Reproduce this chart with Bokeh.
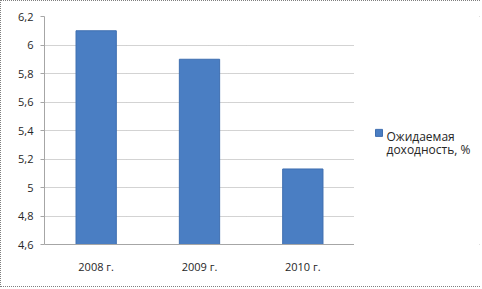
from bokeh.plotting import figure
from bokeh.layouts import row
from bokeh.models import ColumnDataSource, FixedTicker, CustomJSTickFormatter, Range1d
from bokeh.core.properties import value
from bokeh.embed import file_html
from bokeh.resources import INLINE

categories = ["2008 г.", "2009 г.", "2010 г."]
values = [6.1, 5.9, 5.13]
series_lines = ["Ожидаемая", "доходность, %"]
y_ticks = [4.6, 4.8, 5.0, 5.2, 5.4, 5.6, 5.8, 6.0, 6.2]

FONT = "Open Sans"
TXT = "#262626"
GRID = "#a6a6a6"
BAR = "#4A7EC3"
BAR_LINE = "#3f6fb0"

src = ColumnDataSource(dict(cat=categories, val=values, base=[4.6] * len(values)))

p = figure(width=353, height=287, x_range=categories, y_range=Range1d(4.6, 6.2),
           output_backend="svg", toolbar_location=None,
           min_border_left=43, min_border_right=0, min_border_top=15, min_border_bottom=42)
p.outline_line_color = None
p.background_fill_color = "white"
p.border_fill_color = "white"

r = p.vbar(x="cat", top="val", bottom="base", width=0.39, source=src,
           fill_color=BAR, line_color=BAR_LINE, line_width=1)

p.xgrid.grid_line_color = None
p.ygrid.grid_line_color = GRID
p.ygrid.grid_line_dash = "1 1"
p.ygrid.ticker = FixedTicker(ticks=y_ticks)

ya = p.yaxis[0]
ya.ticker = FixedTicker(ticks=y_ticks)
ya.formatter = CustomJSTickFormatter(code="""
var s = tick.toFixed(1);
if (s.endsWith('.0')) { s = s.slice(0, -2); }
return s.replace('.', ',');
""")
ya.axis_line_color = GRID
ya.major_tick_line_color = GRID
ya.major_tick_in = 0
ya.major_tick_out = 4
ya.minor_tick_line_color = None
ya.major_label_standoff = 7
ya.major_label_text_font = FONT
ya.major_label_text_font_size = "11px"
ya.major_label_text_color = TXT

xa = p.xaxis[0]
xa.axis_line_color = GRID
xa.major_tick_line_color = None
xa.minor_tick_line_color = None
xa.major_label_standoff = 8
xa.major_label_text_font = FONT
xa.major_label_text_font_size = "11px"
xa.major_label_text_color = TXT

# legend panel
lg = figure(width=127, height=287, x_range=Range1d(0, 127), y_range=Range1d(0, 287),
            output_backend="svg", toolbar_location=None,
            min_border_left=0, min_border_right=0, min_border_top=0, min_border_bottom=0)
lg.axis.visible = False
lg.grid.visible = False
lg.outline_line_color = None
lg.background_fill_color = "white"
lg.border_fill_color = "white"

lg.scatter(x=[24.5], y=[140.5], marker="square", size=7,
           fill_color=BAR, line_color=BAR_LINE, line_width=1)
lg.text(x=[32, 32], y=[136, 119], text=series_lines,
        text_font=value(FONT), text_font_size="12px", text_color=TXT,
        text_baseline="alphabetic", text_align="left")

lay = row(p, lg, spacing=0)
lay.styles = {"border": "1px dotted #7f7f7f", "width": "480px", "height": "287px"}

open("out.html", "w").write(file_html(lay, INLINE))
